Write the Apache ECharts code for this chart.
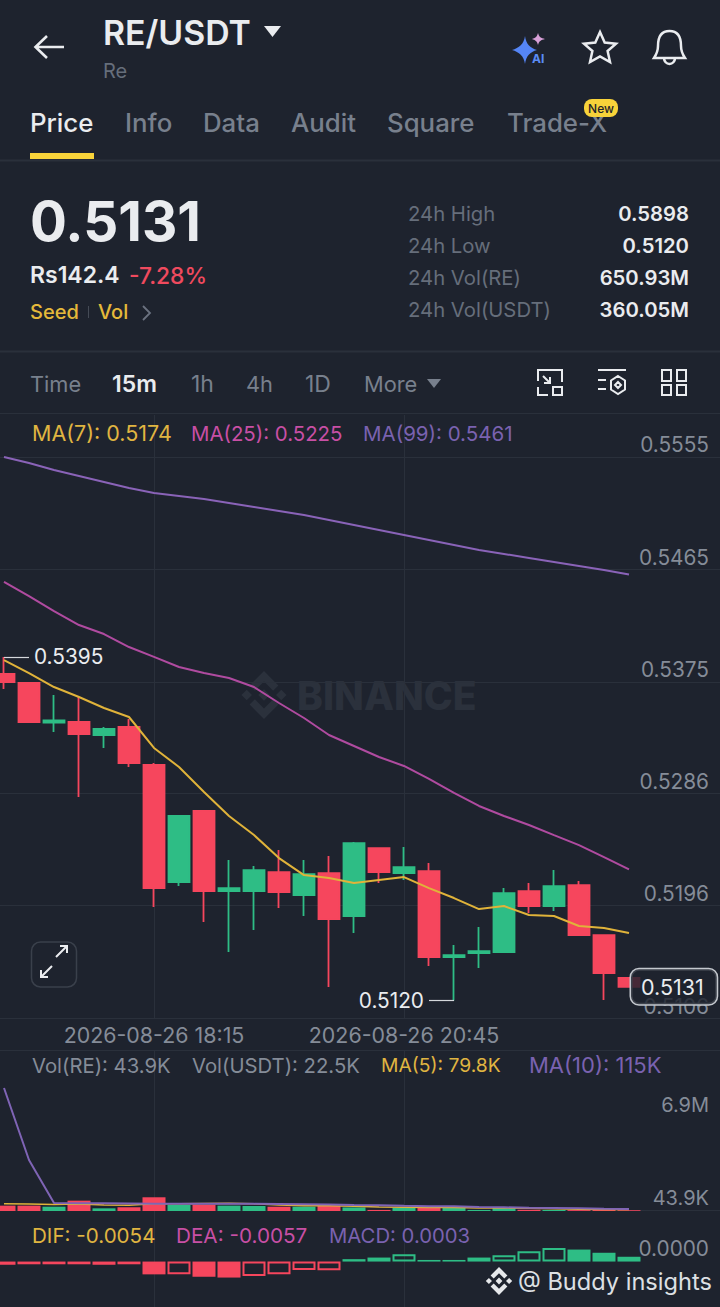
<!DOCTYPE html>
<html><head><meta charset="utf-8">
<style>html,body{margin:0;padding:0;background:#1e232e}#c{width:720px;height:1307px}</style>
<script src="https://cdn.jsdelivr.net/npm/echarts@6/dist/echarts.min.js"></script>
</head><body><div id="c"></div>
<script>
// --- data (index 0 and the last four categories are empty slots of the chart) ---
const times = ['16:30','16:45','17:00','17:15','17:30','17:45','18:00','18:15','18:30','18:45','19:00','19:15','19:30','19:45','20:00','20:15','20:30','20:45','21:00','21:15','21:30','21:45','22:00','22:15','22:30','22:45','23:00','23:15','23:30','23:45','00:00'];
const labelledTimes = ['18:15','20:45'];
const opens  = [.53813,.53741,.53425,.53429,.53325,.53389,.53085,.52148,.52717,.52076,.52076,.52228,.52044,.5222,.51876,.5242,.5222,.52236,.51548,.5158,.51588,.52076,.51956,.52124,.51724,.5138];
const closes = [.53749,.53429,.53441,.53333,.53373,.53101,.521,.52677,.52076,.521,.52244,.52068,.52212,.51852,.5246,.52228,.52268,.51548,.51564,.51596,.5206,.51956,.52116,.51724,.5142,.5131];
const lows   = [.53693,.53429,.53349,.52829,.53221,.53069,.51948,.52116,.51828,.51588,.51764,.5194,.51876,.51308,.5174,.5214,.52164,.51476,.512,.5146,.51588,.519,.51916,.51724,.51204,.5131];
const highs  = [.5395,.53749,.53645,.53629,.53389,.53453,.53101,.52685,.52717,.52324,.52276,.52404,.52324,.52356,.52468,.5242,.52428,.523,.51644,.51788,.521,.5214,.52244,.52156,.51724,.5138];
const ma7  = [.53925,.53821,.53709,.53629,.53541,.53469,.53221,.53069,.52869,.52677,.52524,.5234,.52204,.5218,.5214,.52164,.52188,.521,.5202,.51932,.51956,.51884,.51876,.51796,.5178,.5174];
const ma25 = [.5455,.54437,.54317,.54205,.54133,.54029,.5395,.53869,.53821,.53781,.53709,.53581,.53461,.53325,.53237,.53149,.53077,.52973,.52861,.52757,.52677,.52605,.52524,.52444,.52348,.5225];
const ma99 = [.5555,.55502,.55446,.55398,.5535,.55302,.55262,.55238,.55214,.55182,.5515,.55118,.55086,.55046,.55006,.54966,.54926,.54886,.54846,.54806,.54774,.54742,.5471,.54678,.54646,.5461];
const volume = [300000,300000,240000,580000,150000,210000,770000,340000,355000,300000,280000,240000,240000,280000,200000,60000,170000,210000,170000,60000,170000,70000,60000,50000,90000,43900];
const volMa5  = [400000,390000,370000,390000,340000,320000,400000,400000,420000,430000,400000,340000,300000,300000,270000,220000,210000,200000,200000,170000,170000,150000,120000,100000,90000,79800];
const volMa10 = [6900000,2860000,450000,430000,430000,420000,410000,400000,400000,400000,400000,390000,380000,370000,340000,320000,290000,270000,260000,220000,210000,180000,170000,150000,130000,115000];
const macdBars = [-.0002,-.00017,-.00017,-.00017,-.0002,-.00017,-.0008,-.0008,-.00095,-.001,-.0009,-.0008,-.00052,-.00055,.00015,.00025,.00045,.0001,.0001,.00025,.0004,.00065,.00085,.00075,.00055,.0003];
const macdHollow = [0,0,0,0,0,0,0,1,0,0,1,1,1,1,0,1,1,0,0,0,1,1,1,0,0,0];
const priceTicks = [.5555,.5465,.5375,.5286,.5196,.5106];
const volTicksLow = [43900];
const volTicksHigh = [6900000];
const macdTicks = [0];
const highMark = .5395, lowMark = .512, lastPrice = .5131;

const UP='#2EBD85', DOWN='#F6465D', BG='#1e232e', GRID='#2a303b', FONT='Inter, "Noto Sans", sans-serif';
const YEL='#E0B541', PINK='#C04FA0', PUR='#7A62B0', GRAY='#78808D', LGRAY='#858C98', WHITE='#EAECEF';
const pad = (a,e) => [e, ...a, e, e, e, e];
const dateOf = t => '2026-08-26 '+t;
const isLabelled = (i) => labelledTimes.includes(times[i]);

const candles = pad(opens.map((o,i)=>[o,closes[i],lows[i],highs[i]]),['-','-','-','-']);
const volBars = pad(volume.map((v,i)=>({value:v,itemStyle:{color:closes[i]>=opens[i]?UP:DOWN}})),{value:'-'});
const macdData = pad(macdBars.map((v,i)=>{
  const c = v>=0?UP:DOWN;
  return {value:v,itemStyle: macdHollow[i]?{color:'rgba(0,0,0,0)',borderColor:c,borderWidth:2}:{color:c}};
}),{value:'-'});

function t(x,y,text,size,color,weight,align,z){
  return {type:'text',x,y,silent:true,z:z==null?10:z,style:{text,fontSize:size,fill:color,fontWeight:weight||400,fontFamily:FONT,align:align||'left',verticalAlign:'middle'}};
}
function ln(x1,y1,x2,y2,color,w){return {type:'line',silent:true,shape:{x1,y1,x2,y2},style:{stroke:color,lineWidth:w||1.5}};}
let glyphCount=0;
function p(d,fill,stroke,w){
  const name='glyph'+(glyphCount++);
  echarts.graphic.registerShape(name,echarts.graphic.extendPath(d,{}));
  return {type:name,silent:true,shape:{},style:{fill:fill||'none',stroke:stroke||'none',lineWidth:w||0}};
}
function logo(cx,cy,r,color){
  const P=(x,y)=>(cx+x*r).toFixed(1)+' '+(cy+y*r).toFixed(1);
  const dia=(x,y,s)=>`M${P(x-s,y)}L${P(x,y-s)}L${P(x+s,y)}L${P(x,y+s)}Z`;
  const d=dia(0,0,.24)+dia(-.72,0,.22)+dia(.72,0,.22)+
   `M${P(0,-1)}L${P(.6,-.4)}L${P(.38,-.18)}L${P(0,-.56)}L${P(-.38,-.18)}L${P(-.6,-.4)}Z`+
   `M${P(0,1)}L${P(.6,.4)}L${P(.38,.18)}L${P(0,.56)}L${P(-.38,.18)}L${P(-.6,.4)}Z`;
  return p(d,color);
}

const graphics = [
  // header
  p('M36 47L64 47M47 36L35.5 47L47 58','none','#EAECEF',2.6),
  t(103,32,'RE/USDT',33.8,WHITE,600),
  p('M264 26L281 26L272.5 37Z','#EAECEF'),
  t(103,71,'Re',20,'#666E7B',400),
  p('M525 36C526 44 530 48 537 50C530 52 526 56 525 64C524 56 519 52 512 50C519 48 524 44 525 36Z','#5585F5'),
  p('M538 33C539 37 541 38 545 39C541 40 539 41 538 45C537 41 535 40 532 39C535 38 537 37 538 33Z','#D8A0D8'),
  t(532,58,'AI',12,'#5B8CF5',700),
  p('M600 32L604.7 42.5L616 43.7L607.6 51L610 62L600 56.5L590 62L592.4 51L584 43.7L595.3 42.5Z','none','#EAECEF',2.5),
  p('M669.5 31C660 31 658 39 658 46C658 52 656 55 654 58L685 58C683 55 681 52 681 46C681 39 679 31 669.5 31ZM664 58A5.5 6 0 0 0 675 58','none','#EAECEF',2.5),
  // tabs
  t(30,122,'Price',25.8,WHITE,500),
  t(125,122,'Info',25.8,GRAY,500),
  t(203,122,'Data',25.8,GRAY,500),
  t(291,122,'Audit',25.8,GRAY,500),
  t(387,122,'Square',25.8,GRAY,500),
  t(507,122,'Trade-X',25.8,GRAY,500),
  {type:'rect',silent:true,z:11,shape:{x:584,y:99,width:34,height:18,r:8},style:{fill:'#F8D33A'}},
  t(601,108,'New',12,'#1E2329',500,'center',12),
  {type:'rect',silent:true,shape:{x:30,y:153,width:64,height:6},style:{fill:'#F8D33A'}},
  ln(0,160.5,720,160.5,'#2a303b',2),
  // price block
  t(30,221,'0.5131',54.8,WHITE,700),
  t(30,275,'Rs142.4',23,WHITE,600),
  t(129,275,'-7.28%',22.8,'#F04A5E',500),
  t(30,312,'Seed',20,'#E5B93A',500),
  ln(88.5,306,88.5,318,'#454b56',1),
  t(98,312,'Vol',20,'#E5B93A',500),
  p('M143 306L150 313L143 320','none','#6B7280',1.8),
  t(408,213,'24h High',20.3,'#666E7B'),
  t(408,245,'24h Low',20.3,'#666E7B'),
  t(408,277,'24h Vol(RE)',20.3,'#666E7B'),
  t(408,309,'24h Vol(USDT)',20.3,'#666E7B'),
  t(689,213,'0.5898',20.3,WHITE,600,'right'),
  t(689,245,'0.5120',20.3,WHITE,600,'right'),
  t(689,277,'650.93M',20.3,WHITE,600,'right'),
  t(689,309,'360.05M',20.3,WHITE,600,'right'),
  ln(0,351.5,720,351.5,'#2a303b',2),
  // interval row
  t(30,384,'Time',21.8,GRAY,400),
  t(112,384,'15m',23,WHITE,600),
  t(191,384,'1h',23,GRAY,400),
  t(246,384,'4h',21.8,GRAY,400),
  t(305,384,'1D',23,GRAY,400),
  t(364,384,'More',21.8,GRAY,400),
  p('M427 379L441 379L434 388Z',GRAY),
  p('M538 381L538 370L562 370L562 382M548 395L538 395L538 387M553 387L562 387L562 395L553 395ZM543 376L550 383M550 377L550 383L544 383','none','#EAECEF',2),
  p('M598 370L626 370M598 380L606 380M598 389L606 389M618 376L625 380.5L625 389.5L618 394L611 389.5L611 380.5ZM618 382L621 385L618 388L615 385Z','none','#EAECEF',2),
  p('M662 370H671V381H662ZM677 370H686V381H677ZM662 385H671V395H662ZM677 385H686V395H677Z','none','#EAECEF',2),
  ln(0,413.5,720,413.5,GRID,1),
  // legends
  t(32,433,'MA(7): 0.5174',21.5,YEL),
  t(191,433,'MA(25): 0.5225',20.4,'#C84FA5'),
  t(363,433,'MA(99): 0.5461',20.5,PUR),
  t(32,1065,'Vol(RE): 43.9K',20.3,LGRAY),
  t(192,1065,'Vol(USDT): 22.5K',20.3,LGRAY),
  t(381,1065,'MA(5): 79.8K',19.3,YEL),
  t(529,1065,'MA(10): 115K',22,PUR),
  t(32,1235,'DIF: -0.0054',20.6,YEL),
  t(176,1235,'DEA: -0.0057',20.7,'#C84FA5'),
  t(329,1235,'MACD: 0.0003',20.3,PUR),
  ln(0,1050.5,720,1050.5,GRID,1),
  // watermark
  logo(264,695,24,'#2b313c'),
  t(297,695,'BINANCE',39,'#2b313c',800,'left',0),
  logo(499,1281,14,'#E6E8EB'),
  t(518,1281,'@ Buddy insights',23.6,'#DDE0E4',400),
  // expand button
  {type:'rect',silent:true,shape:{x:31.5,y:942,width:45,height:45,r:9},style:{fill:'none',stroke:'#3a404b',lineWidth:1.5}},
  p('M56 957L67 946M60 946L67 946L67 953M41 977L52 966M41 970L41 977L48 977','none','#EAECEF',2)
];

const xBase = (gi,show)=>({type:'category',gridIndex:gi,data:times.map(dateOf),boundaryGap:false,
  axisLine:{show:false},axisTick:{show:false},
  axisLabel:{show,interval:(i)=>isLabelled(i),color:LGRAY,fontSize:21.4,fontFamily:FONT,margin:6,hideOverlap:false},
  splitLine:{show:true,interval:(i)=>isLabelled(i),lineStyle:{color:GRID,width:1}}});
const yLabel = (values,fmt,va,extra)=>Object.assign({show:true,inside:true,customValues:values,formatter:fmt,color:LGRAY,fontSize:20.8,fontFamily:FONT,margin:20,verticalAlign:va,lineHeight:24},extra||{});
const yBase = (gi,min,max,values,fmt,va,extra,grid)=>({type:'value',gridIndex:gi,position:'right',min,max,scale:true,
  axisLine:{show:false},axisTick:{show:false,customValues:values},
  axisLabel:yLabel(values,fmt,va,extra),
  splitLine:{show:grid!==false,customValues:values,lineStyle:{color:GRID,width:1}}});
const fmt4=v=>(+v).toFixed(4);
const fmtVol=v=>v>=1e6?(v/1e6).toFixed(1)+'M':(v/1e3).toFixed(1)+'K';
const maLine=(name,data,color,xi,yi,w)=>({type:'line',name,data:pad(data,'-'),xAxisIndex:xi,yAxisIndex:yi,showSymbol:false,symbol:'none',smooth:false,z:5,lineStyle:{color,width:w||2},silent:true});

const option = {
  backgroundColor:BG, animation:false,
  grid:[
    {left:-21,right:-9,top:415,height:603,outerBoundsMode:'none'},
    {left:-21,right:-9,top:1050,height:161,outerBoundsMode:'none'},
    {left:-21,right:-9,top:1211,height:96,outerBoundsMode:'none'}
  ],
  xAxis:[xBase(0,true),xBase(1,false),xBase(2,false)],
  yAxis:[
    yBase(0,.5106,.55886,priceTicks,fmt4,'bottom'),
    yBase(1,0,9030000,volTicksLow,fmtVol,'bottom',{fontSize:20}),
    yBase(1,0,9030000,volTicksHigh,fmtVol,'top',{fontSize:20,padding:[5,0,0,0]},false),
    yBase(2,-.00284,.00316,macdTicks,fmt4,'bottom',{padding:[0,0,1,0]},false)
  ],
  graphic:{elements:graphics},
  series:[
    {type:'candlestick',name:'RE/USDT',data:candles,xAxisIndex:0,yAxisIndex:0,barWidth:21.5,z:3,silent:true,
     itemStyle:{color:UP,color0:DOWN,borderColor:UP,borderColor0:DOWN,borderWidth:1.8},
     markLine:{silent:true,symbol:'none',animation:false,lineStyle:{color:'#d5d8dc',width:1.2,type:'solid'},
       label:{show:true,position:'end',color:WHITE,fontSize:20.8,fontFamily:FONT,formatter:p=>p.data.name||p.name,distance:5},
       data:[
        [{coord:[1,highMark],name:fmt4(highMark)},{coord:[2,highMark]}],
        [{coord:[19,lowMark],name:fmt4(lowMark)},{coord:[18,lowMark]}]
       ]},
     markPoint:{silent:true,symbol:'circle',symbolSize:0,animation:false,
       label:{show:true,position:'right',distance:2,formatter:()=>fmt4(lastPrice),color:WHITE,fontSize:21.5,fontFamily:FONT,backgroundColor:'rgba(30,35,46,.82)',borderColor:'#c4c8ce',borderWidth:1.5,borderRadius:8,padding:[7,13,6,10]},
       data:[{coord:[26,lastPrice]}]}},
    maLine('MA7',ma7,'#E0B33A',0,0),
    maLine('MA25',ma25,'#B04BA0',0,0),
    maLine('MA99',ma99,'#8A63B8',0,0),
    {type:'bar',name:'Vol',data:volBars,xAxisIndex:1,yAxisIndex:1,barWidth:23,silent:true},
    maLine('VolMA5',volMa5,'#E0B33A',1,1,1.5),
    maLine('VolMA10',volMa10,'#7F64B5',1,1,2),
    {type:'bar',name:'MACD',data:macdData,xAxisIndex:2,yAxisIndex:3,barWidth:23,silent:true}
  ]
};
const chart = echarts.init(document.getElementById('c'),null,{renderer:'svg',width:720,height:1307});
chart.setOption(option);
</script>
</body></html>
